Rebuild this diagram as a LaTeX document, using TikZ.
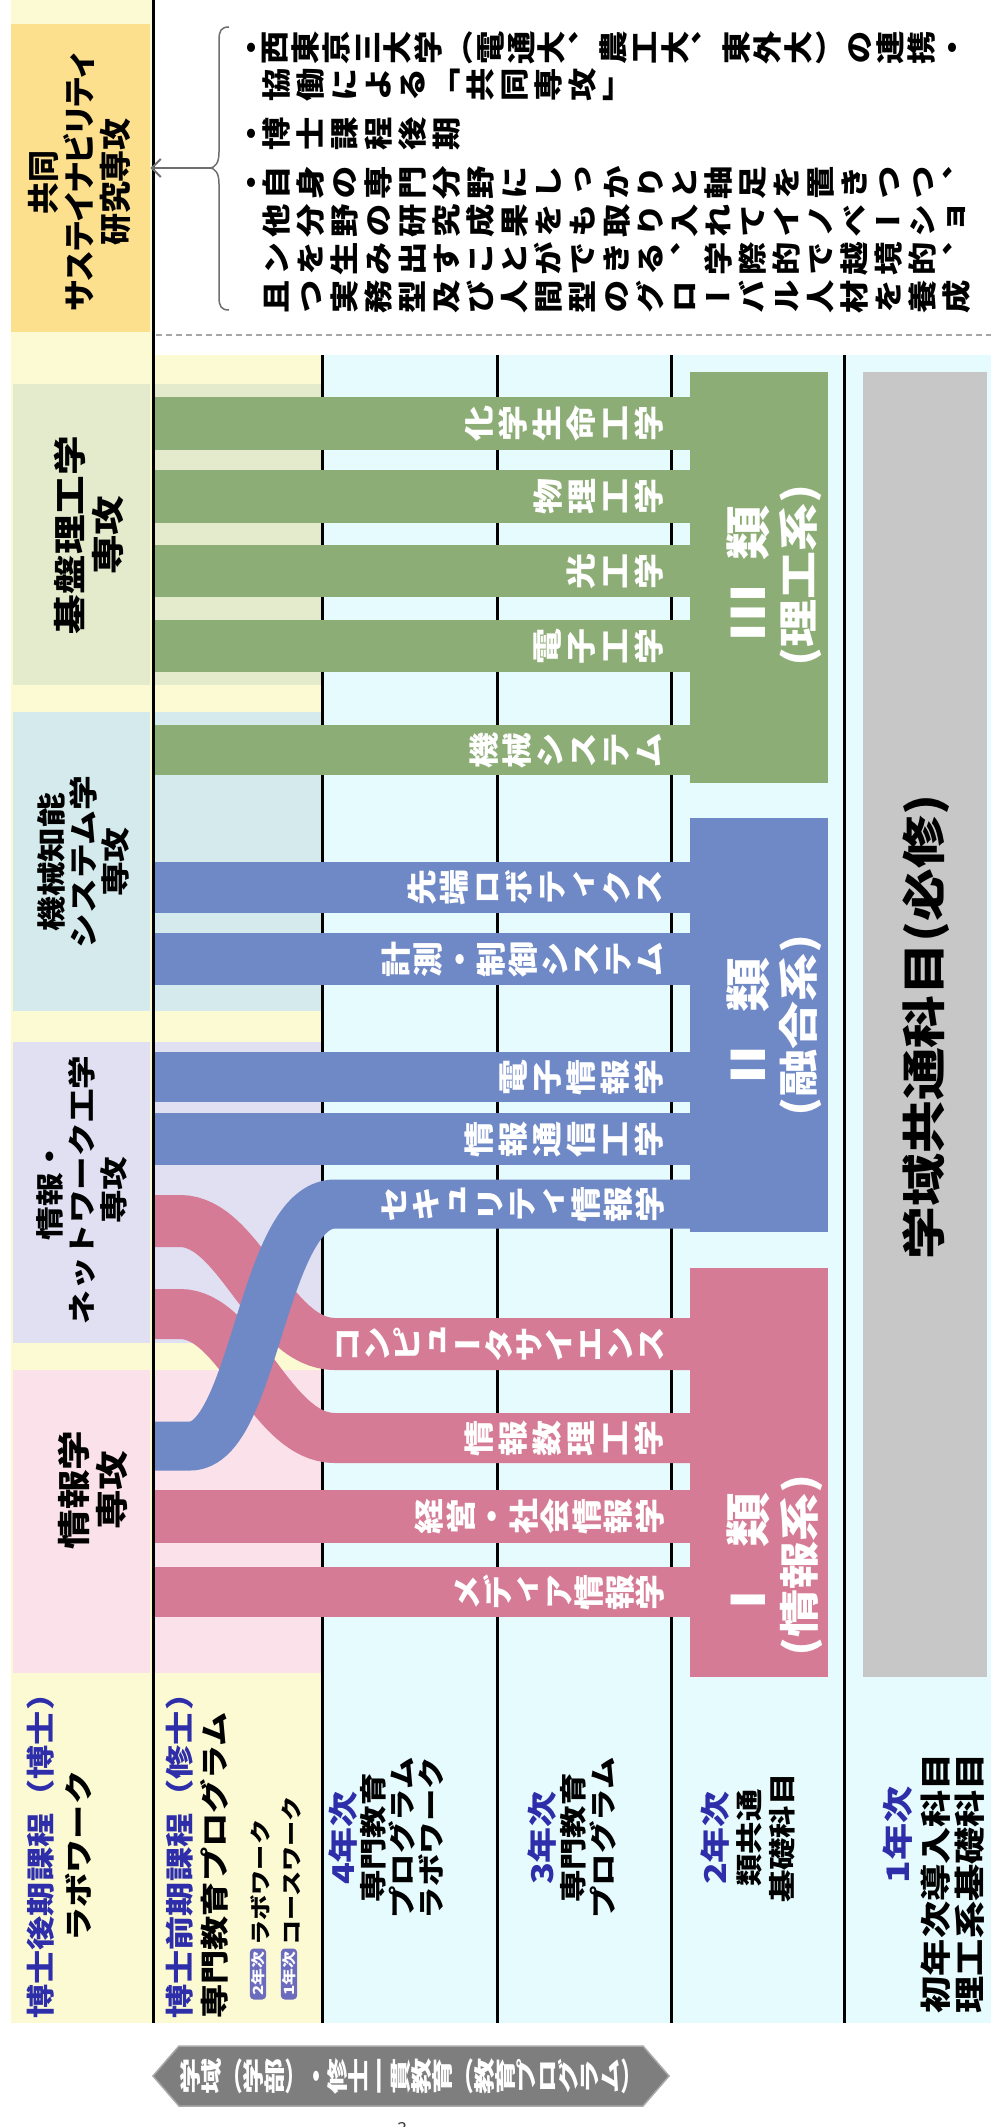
\documentclass[tikz,border=0pt]{standalone}
\usepackage{graphicx}
\usepackage{fontspec}
\setmainfont{Noto Sans CJK JP}
\newfontfamily\vjp{Noto Sans CJK JP}[RawFeature=+vert]
\newfontfamily\pjp{Noto Sans CJK JP}[RawFeature=+palt]
\usetikzlibrary{arrows.meta}
\ExplSyntaxOn
\NewDocumentCommand\tate{O{1em}m}{\tl_map_inline:nn{#2}{\tatech{#1}{##1}}}
\ExplSyntaxOff
\newcommand\tatech[2]{\makebox[#1][c]{\rotatebox[origin=c]{90}{\raisebox{0pt}[.88em][.12em]{\makebox[1em][c]{#2}}}}}
\newcommand\fsz[2]{\fontsize{#1}{#2}\selectfont\bfseries\lineskiplimit=-1000pt\relax}
\newcommand\yr[1]{\textcolor{lblue}{\fontsize{30}{29}\selectfont #1}}
\definecolor{pyel}{HTML}{FBFAD3}
\definecolor{gold}{HTML}{FDE08E}
\definecolor{bgreen}{HTML}{E3EBCC}
\definecolor{bblue}{HTML}{D4EAEC}
\definecolor{blav}{HTML}{E0E0F2}
\definecolor{bpink}{HTML}{FAE1EA}
\definecolor{cyanbg}{HTML}{E6FBFD}
\definecolor{gbar}{HTML}{8DAD76}
\definecolor{bbar}{HTML}{6F88C6}
\definecolor{pbar}{HTML}{D57B95}
\definecolor{graybox}{HTML}{C7C7C7}
\definecolor{lblue}{HTML}{2E2EAA}
\definecolor{badge}{HTML}{6C6CBE}
\definecolor{hexfill}{HTML}{7E7E7E}
\definecolor{hexedge}{HTML}{A8A8A8}
\definecolor{linegray}{HTML}{6E6E6E}
\begin{document}
\begin{tikzpicture}[x=1pt,y=-1pt,
  rot/.style={rotate=90,xscale=1.2,inner sep=0pt,align=center},
  bartext/.style={text=white,yscale=1.2,inner sep=0pt,anchor=east,font=\vjp\fsz{30}{34}},
  desc/.style={text=black,yscale=1.15,inner sep=0pt,anchor=west,font=\vjp\fsz{29}{33}},
  colline/.style={line width=3pt,black},
  badgebox/.style={rot,fill=badge,text=white,rounded corners=4pt,inner xsep=3pt,inner ysep=1.5pt,font=\fsz{14}{15}}
  ]
\useasboundingbox (0,0) rectangle (991,2127);
\fill[white] (0,0) rectangle (991,2127);
% backgrounds
\fill[pyel] (11,0) rectangle (153,2023);
\fill[pyel] (153,355) rectangle (322,2023);
\fill[cyanbg] (322,355) rectangle (991,2023);
\foreach \c/\a/\b in {bgreen/384/685, bblue/712/1011, blav/1042/1343, bpink/1370/1673}{
  \fill[\c] (13,\a) rectangle (150,\b);
  \fill[\c] (155,\a) rectangle (322,\b);
}
\node[fill=gold,minimum width=139pt,minimum height=308pt,inner sep=0pt,anchor=north west] (kyodo) at (11,24) {};
\fill[graybox] (863,372) rectangle (987,1677);
% column lines
\draw[colline] (153,0) -- (153,2023);
\foreach \x in {322,497,671,844}{\draw[colline] (\x,355) -- (\x,2023);}
% dashed separator
\draw[gray!70,line width=1.5pt,dash pattern=on 6pt off 4pt] (156,335) -- (991,335);
% class blocks
\fill[gbar] (690,372) rectangle (828,783);
\fill[bbar] (690,818) rectangle (828,1232);
\fill[pbar] (690,1268) rectangle (828,1677);
% straight bars
\foreach \c/\a/\b in {gbar/397/450, gbar/470/523, gbar/545/597, gbar/620/672, gbar/725/775,
  bbar/862/913, bbar/933/985, bbar/1052/1102, bbar/1113/1165, pbar/1490/1543, pbar/1567/1617}{
  \fill[\c] (155,\a) rectangle (692,\b);
}
% curved flows
\draw[pbar,line width=52pt] (155,1221) -- (180,1221) .. controls (240,1221) and (270,1344) .. (335,1344) -- (692,1344);
\draw[pbar,line width=50pt] (155,1314) -- (180,1314) .. controls (240,1314) and (270,1438) .. (335,1438) -- (692,1438);
\draw[bbar,line width=49pt] (155,1446) -- (190,1446) .. controls (255,1446) and (262,1204) .. (335,1204) -- (692,1204);
% bar labels
\node[bartext] (t1) at (666,423.5) {\tate[34pt]{化学生命工学}};
\node[bartext] (t2) at (666,496.5) {\tate[33.5pt]{物理工学}};
\node[bartext] (t3) at (666,571) {\tate[34pt]{光工学}};
\node[bartext] (t4) at (666,646) {\tate[34pt]{電子工学}};
\node[bartext] (t5) at (666,750) {\tate[33pt]{機械システム}};
\node[bartext] (t6) at (666,887.5) {\tate[32.5pt]{先端ロボティクス}};
\node[bartext] (t7) at (666,959) {\tate[31.7pt]{計測・制御システム}};
\node[bartext] (t8) at (666,1077) {\tate[34pt]{電子情報学}};
\node[bartext] (t9) at (666,1139) {\tate[34pt]{情報通信工学}};
\node[bartext] (t10) at (666,1204) {\tate[32pt]{セキュリティ情報学}};
\node[bartext] (t11) at (666,1344) {\tate[30.4pt]{コンピュータサイエンス}};
\node[bartext] (t12) at (666,1438) {\tate[34pt]{情報数理工学}};
\node[bartext] (t13) at (666,1516.5) {\tate[31.5pt]{経営・社会情報学}};
\node[bartext] (t14) at (666,1592) {\tate[30.5pt]{メディア情報学}};
% class labels
\node[rot,text=white,font=\fsz{46}{50}] (c3a) at (748,573) {Ⅲ\hspace{.45em}類};
\node[rot,text=white,font=\fsz{40}{44}] (c3b) at (801,575) {(理工系)};
\node[rot,text=white,font=\fsz{46}{50}] (c2a) at (748,1025) {Ⅱ\hspace{.45em}類};
\node[rot,text=white,font=\fsz{40}{44}] (c2b) at (801,1025) {(融合系)};
\node[rot,text=white,font=\fsz{46}{50}] (c1a) at (748,1560) {Ⅰ\hspace{.45em}類};
\node[rot,text=white,font=\fsz{40}{44}] (c1b) at (801,1565) {(情報系)};
\node[rot,font=\fsz{44}{48}] (common) at (926,1027) {学域共通科目(必修)};
% major labels
\node[rot,xscale=1/1.2,font=\pjp\fsz{32}{36}] (kyodot) at (80,182) {共同\\サステイナビリティ\\研究専攻};
\node[rot,font=\fsz{33}{38}] (m1) at (89,535) {基盤理工学\\専攻};
\node[rot,font=\fsz{29}{32}] (m2) at (83,862) {機械知能\\システム学\\専攻};
\node[rot,font=\fsz{28}{32}] (m3) at (82,1190) {情報・\\ネットワーク工学\\専攻};
\node[rot,font=\fsz{33}{38}] (m4) at (93,1490) {情報学\\専攻};
% row labels
\node[rot,anchor=west,text=lblue,font=\fsz{28.5}{32}] (r1a) at (41,2019) {博士後期課程（博士）};
\node[rot,anchor=west,font=\fsz{28.5}{32}] (r1b) at (79,1942) {ラボワーク};
\node[rot,anchor=west,text=lblue,font=\fsz{28.5}{32}] (r2a) at (180,2019) {博士前期課程（修士）};
\node[rot,anchor=west,font=\fsz{28.5}{32}] (r2b) at (214,2019) {専門教育プログラム};
\node[badgebox] (bd2) at (258,1974) {2年次};
\node[rot,anchor=west,font=\fsz{21}{23}] (r2c) at (260,1946) {ラボワーク};
\node[badgebox] (bd1) at (289,1974) {1年次};
\node[rot,anchor=west,font=\fsz{21}{23}] (r2d) at (291,1946) {コースワーク};
\node[rot,font=\fsz{27}{29}] (rc) at (386,1838) {\yr{4年次}\\専門教育\\プログラム\\ラボワーク};
\node[rot,font=\fsz{27}{30}] (rd) at (572,1838) {\yr{3年次}\\専門教育\\プログラム};
\node[rot,font=\fsz{27}{33}] (re) at (748,1838) {\yr{2年次}\\類共通\\基礎科目};
\node[rot,text=lblue,font=\fsz{31}{34}] (rf1) at (898,1835) {1年次};
\node[rot,font=\fsz{31}{34}] (rf2) at (953,1883) {初年次導入科目\\理工系基礎科目};
% description
\node[desc] (d1) at (243,48) {\tatech{16pt}{・}\tate[30.8pt]{西東京三大学（電通大、農工大、東外大）の連携・}};
\node[desc] (d2) at (259,85) {\tate[34pt]{協働による「共同専攻」}};
\node[desc] (d3) at (243,134) {\tatech{16pt}{・}\tate[34pt]{博士課程後期}};
\node[desc] (d4) at (243,183) {\tatech{16pt}{・}\tate[34pt]{自身の専門分野にしっかりと軸足を置きつつ、}};
\node[desc] (d5) at (259,221) {\tate[34pt]{他分野の研究成果をも取り入れてイノベーショ}};
\node[desc] (d6) at (259,259) {\tate[34pt]{ンを生み出すことができる、学際的で越境的、}};
\node[desc] (d7) at (259,297) {\tate[34pt]{且つ実務型及び人間型のグローバル人材を養成}};
% brace and arrow
\coordinate (bt) at (209,168);
\draw[linegray,line width=1.5pt] (229,27) .. controls (221,27) and (219,31) .. (219,40) -- (219,152) .. controls (219,162) and (216,168) .. (bt) .. controls (216,168) and (219,174) .. (219,184) -- (219,297) .. controls (219,306) and (221,310) .. (229,310);
\draw[linegray,line width=2pt,-{Straight Barb[length=9pt,width=18pt]}] (bt) -- (bt -| kyodo.east);
% bottom banner
\filldraw[fill=hexfill,draw=hexedge,line width=1.5pt] (153,2076) -- (179,2046) -- (643,2046) -- (669,2076) -- (643,2106) -- (179,2106) -- cycle;
\node[text=white,xscale=.75,yscale=1.3,inner sep=0pt,font=\vjp\fsz{28}{30}] (hex) at (411,2076) {\tate{学域（学部）・修士一貫教育（教育プログラム）}};
\node[inner sep=0pt,text=black!75,font=\fontsize{18}{20}\selectfont] (pg) at (402,2129) {3};
\end{tikzpicture}
\end{document}
